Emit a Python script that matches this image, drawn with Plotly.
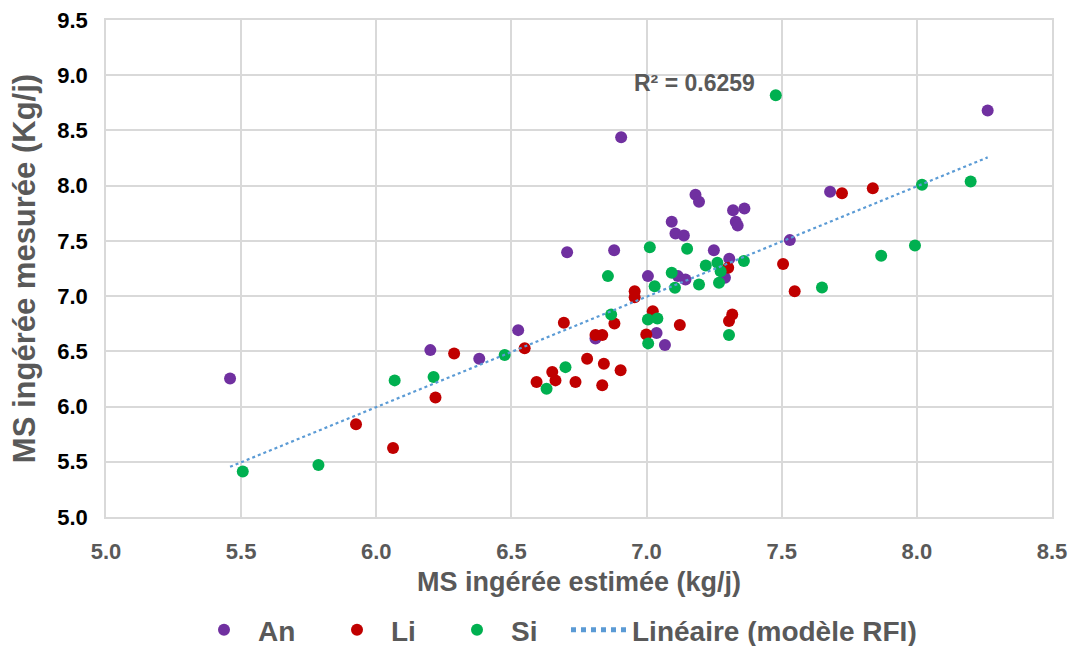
import numpy as np
import plotly.graph_objects as go

# ---- data ----
an_x = [5.459, 6.200, 6.381, 6.525, 6.706, 6.906, 6.880, 6.811, 7.005, 7.037, 7.068, 7.093, 7.107, 7.138,
        7.116, 7.144, 7.181, 7.194, 7.249, 7.290, 7.306, 7.320, 7.330, 7.337, 7.362, 7.530, 7.679, 8.262]
an_y = [6.255, 6.511, 6.433, 6.692, 7.398, 8.439, 7.416, 6.617, 7.181, 6.665, 6.557, 7.673, 7.567, 7.549,
        7.181, 7.151, 7.918, 7.854, 7.416, 7.166, 7.339, 7.778, 7.673, 7.640, 7.794, 7.507, 7.945, 8.681]

li_x = [5.925, 6.062, 6.219, 6.288, 6.549, 6.593, 6.651, 6.663, 6.694, 6.737, 6.780, 6.811, 6.836, 6.836,
        6.842, 6.881, 6.904, 6.956, 6.956, 6.999, 7.023, 7.123, 7.302, 7.305, 7.317, 7.505, 7.548, 7.723, 7.837]
li_y = [5.839, 5.625, 6.083, 6.481, 6.527, 6.222, 6.312, 6.237, 6.759, 6.222, 6.433, 6.647, 6.647, 6.192,
        6.388, 6.753, 6.328, 7.045, 6.990, 6.653, 6.864, 6.738, 7.257, 6.774, 6.834, 7.290, 7.045, 7.932, 7.977]

si_x = [5.506, 5.786, 6.068, 6.212, 6.475, 6.630, 6.700, 6.857, 6.869, 7.005, 7.040, 7.006, 7.012, 7.030,
        7.093, 7.105, 7.150, 7.194, 7.219, 7.262, 7.268, 7.274, 7.305, 7.360, 7.478, 7.649, 7.868, 7.993,
        8.019, 8.199]
si_y = [5.411, 5.471, 6.237, 6.267, 6.466, 6.162, 6.357, 7.181, 6.834, 6.789, 6.798, 6.572, 7.443, 7.090,
        7.212, 7.076, 7.429, 7.106, 7.278, 7.302, 7.121, 7.226, 6.647, 7.317, 8.819, 7.079, 7.366, 7.459,
        8.008, 8.038]

series_names = ["An", "Li", "Si"]
trend_name = "Linéaire (modèle RFI)"
r2_text = "R² = 0.6259"
x_title = "MS ingérée estimée (kg/j)"
y_title = "MS ingérée mesurée (Kg/j)"

# ---- linear trend fitted on all points ----
all_x = np.array(an_x + li_x + si_x)
all_y = np.array(an_y + li_y + si_y)
slope, intercept = np.polyfit(all_x, all_y, 1)
tx = np.array([all_x.min(), all_x.max()])
ty = slope * tx + intercept

FONT = "Liberation Sans, Arial, sans-serif"
GRAY = "#595959"
GRID = "#D9D9D9"
W, H = 1073, 646

fig = go.Figure()
legend_ids = ["legend", "legend2", "legend3", "legend4"]
for name, xs, ys, col, lg in [(series_names[0], an_x, an_y, "#7030A0", "legend"),
                              (series_names[1], li_x, li_y, "#C00000", "legend2"),
                              (series_names[2], si_x, si_y, "#00B050", "legend3")]:
    fig.add_trace(go.Scatter(x=xs, y=ys, mode="markers", name=name, legend=lg,
                             marker=dict(color=col, size=12, line=dict(width=0))))
fig.add_trace(go.Scatter(x=tx, y=ty, mode="lines", name=trend_name, legend="legend4",
                         line=dict(color="#5B9BD5", width=2.2, dash="dot")))

fig.add_annotation(x=7.178, y=8.934, xref="x", yref="y", text=r2_text, showarrow=False,
                   font=dict(family=FONT, size=23, color=GRAY, weight="bold"))

legend_font = dict(family=FONT, size=28, color=GRAY, weight="bold")
# left edge (px) of each legend box in the page, and symbol width
legend_left = [190, 323, 443, 566]
legend_iw = [58, 58, 58, 56]
legend_cfg = {}
for lid, left, iw in zip(legend_ids, legend_left, legend_iw):
    legend_cfg[lid] = dict(orientation="h", xref="container", yref="container",
                           x=left / W, xanchor="left", y=1 - 630 / H, yanchor="middle",
                           font=legend_font, itemwidth=iw, bgcolor="rgba(0,0,0,0)",
                           borderwidth=0, itemsizing="constant")

fig.update_layout(
    width=W, height=H,
    margin=dict(l=106, r=21, t=20, b=129, autoexpand=False),
    paper_bgcolor="white", plot_bgcolor="white",
    font=dict(family=FONT, color=GRAY),
    showlegend=True,
    **legend_cfg,
)
fig.update_xaxes(range=[5.0, 8.5], dtick=0.5, tick0=5.0, tickformat=".1f", automargin=False,
                 showgrid=True, gridcolor=GRID, gridwidth=1.5,
                 showline=True, linecolor=GRID, linewidth=1.5, mirror=True,
                 zeroline=False, ticks="", ticklabelstandoff=14,
                 tickfont=dict(family=FONT, size=22, color=GRAY, weight="bold"),
                 title=dict(text=x_title, standoff=9,
                            font=dict(family=FONT, size=27, color=GRAY, weight="bold")))
fig.update_yaxes(range=[5.0, 9.5], dtick=0.5, tick0=5.0, tickformat=".1f", automargin=False,
                 showgrid=True, gridcolor=GRID, gridwidth=1.5,
                 showline=True, linecolor=GRID, linewidth=1.5, mirror=True,
                 zeroline=False, ticks="", ticklabelstandoff=12,
                 tickfont=dict(family=FONT, size=22, color="black", weight="bold"),
                 title=dict(text=y_title, standoff=12,
                            font=dict(family=FONT, size=31, color=GRAY, weight="bold")))

fig.write_html("out.html")
